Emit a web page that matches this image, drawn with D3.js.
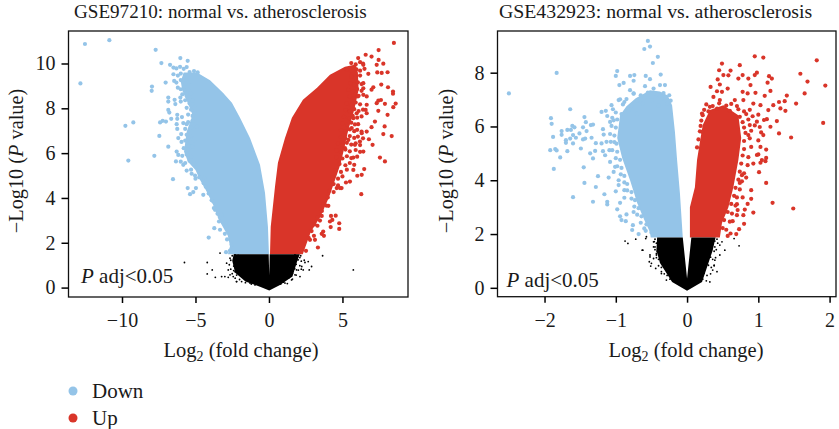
<!DOCTYPE html>
<html>
<head>
<meta charset="utf-8">
<script src="https://d3js.org/d3.v7.min.js"></script>
<style>
  html, body { margin: 0; background: #fff; }
  text { font-family: "Liberation Serif", serif; fill: #1a1a1a; }
</style>
</head>
<body>
<script>
// values: [log2 fold change, -log10 p]

// GSE97210 - solid part of each cloud, outlined
let envelopeDownA = [[-2.79,1.49],[-2.65,1.86],[-2.80,2.31],[-3.40,3.02],[-3.85,3.78],[-4.30,4.36],[-4.70,4.81],[-5.00,5.25],[-5.51,5.61],[-5.78,6.06],[-5.60,6.95],[-5.20,7.70],[-5.50,8.20],[-5.90,8.80],[-6.00,9.20],[-5.80,9.60],[-4.90,9.60],[-4.01,9.25],[-3.13,8.69],[-2.52,8.25],[-1.97,7.58],[-1.29,6.68],[-0.61,5.48],[-0.27,4.23],[-0.07,2.71],[0,1.49]];
let envelopeUpA = [[0.07,1.49],[0.12,2.71],[0.41,4.50],[0.61,5.57],[1.09,6.68],[1.56,7.58],[2.31,8.38],[3.27,8.92],[4.15,9.50],[5.17,9.85],[5.90,9.95],[6.05,9.60],[6.10,8.83],[5.80,7.93],[5.40,7.04],[5.10,6.15],[4.85,5.48],[4.50,4.81],[4.10,4.05],[3.50,3.16],[2.85,2.49],[2.30,1.49]];
let envelopeNsA = [[-2.40,1.49],[-2.50,1.20],[-2.30,0.66],[-1.60,0.27],[-0.61,0.04],[0.02,-0.13],[0.75,0.12],[1.60,0.49],[1.95,1.24],[2.10,1.49],[0.05,1.49],[0.02,0.55],[-0.02,1.49]];

// GSE97210 - separate points
let pointsDownA = [[-12.52,10.87],[-10.86,11.04],[-12.83,9.11],[-7.71,10.61],[-7.32,10.02],[-6.03,10.24],[-5.53,10.12],[-6.73,9.94],[-7.96,8.97],[-7.98,8.78],[-7.03,9.15],[-9.77,7.22],[-9.23,7.37],[-9.57,5.67],[-7.80,5.88],[-7.46,6.77],[-6.85,6.29],[-7.41,7.37],[-7.23,7.44],[-7.01,7.41],[-6.65,7.53],[-6.85,8.48],[-6.85,8.30],[-6.42,8.38],[-6.37,8.19],[-6.03,8.48],[-6.85,7.93],[-6.78,7.81],[-6.24,7.71],[-6.24,7.53],[-6.28,7.29],[-6.24,7.08],[-5.92,7.61],[-5.83,7.34],[-5.60,7.29],[-5.97,6.85],[-6.17,6.67],[-6.28,6.07],[-6.17,5.92],[-6.33,5.63],[-6.53,4.84],[-5.53,4.44],[-5.37,4.17],[-5.15,4.26],[-4.97,4.44],[-4.47,4.14],[-5.26,5.08],[-5.03,5.00],[-3.72,2.65],[-3.33,2.58],[-4.10,2.23],[-2.88,2.75],[-2.92,1.58],[-2.54,1.91],[-3.22,3.25],[-3.33,3.14],[-3.67,3.47],[-3.79,3.84],[-4.44,4.66],[-5.83,5.48]];
let rimDownA = [[-6.5,9.82],[-6.3,9.78],[-6.05,9.85],[-5.8,9.76],[-5.6,9.84],[-6.5,9.52],[-6.2,9.46],[-6.0,9.55],[-5.7,9.48],[-5.4,9.62],[-5.1,9.66],[-4.85,9.6],[-6.45,9.22],[-6.3,9.15],[-6.0,9.26],[-5.7,9.12],[-5.4,9.18],[-6.2,8.92],[-6.0,8.85],[-5.75,8.95],[-5.5,8.82],[-5.9,8.62],[-5.6,8.55],[-5.3,8.66],[-6.0,8.3],[-5.7,8.36],[-5.4,8.22],[-5.2,8.34],[-5.6,8.02],[-5.3,7.94],[-5.1,8.06],[-5.5,7.72],[-5.2,7.66],[-5.05,7.78],[-5.5,7.38],[-5.2,7.44],[-5.7,7.08],[-5.3,7.14],[-5.1,7.04],[-4.9,7.18],[-5.6,6.82],[-5.3,6.76],[-5.95,6.5],[-5.7,6.56],[-5.4,6.46],[-5.1,6.58],[-5.8,6.22],[-5.5,6.16],[-5.2,6.28],[-5.9,5.88],[-5.6,5.94],[-5.3,5.84],[-6.0,5.62],[-5.7,5.56],[-5.4,5.66],[-5.1,5.54],[-5.6,5.22],[-5.3,5.26],[-4.75,4.92],[-5.0,4.86],[-4.4,4.9],[-4.3,4.5],[-4.1,4.2],[-3.9,3.9],[-3.75,3.55],[-3.5,3.3],[-3.4,2.95],[-3.1,2.9],[-3.0,2.4],[-2.85,2.15],[-2.65,1.65]];
let pointsUpA = [[8.50,10.92],[7.46,10.60],[6.58,10.39],[6.98,10.31],[6.07,10.24],[7.46,10.16],[7.78,9.99],[7.33,9.94],[6.42,9.94],[7.37,9.60],[7.67,9.58],[8.07,9.61],[6.76,9.54],[7.64,9.06],[8.10,8.94],[8.44,8.75],[8.44,8.65],[7.10,8.94],[6.98,8.83],[6.42,9.12],[6.42,8.89],[6.42,8.60],[6.65,8.53],[7.44,8.34],[7.62,8.37],[7.33,8.23],[7.89,8.20],[8.62,8.21],[8.46,8.05],[6.65,8.16],[6.58,7.93],[7.44,7.89],[8.07,7.71],[6.65,7.78],[7.21,7.41],[6.07,7.29],[6.98,7.16],[7.87,7.19],[7.78,6.85],[8.35,6.76],[6.65,6.96],[6.31,6.89],[6.80,6.62],[7.05,6.37],[6.42,6.07],[5.85,6.37],[5.40,6.59],[7.55,5.80],[7.89,5.63],[5.51,7.89],[5.97,7.78],[5.74,7.56],[5.63,7.12],[5.05,6.82],[6.19,6.52],[5.17,6.22],[5.74,5.80],[6.05,8.53],[6.48,5.29],[6.31,5.03],[6.01,4.99],[5.74,5.25],[5.51,4.73],[5.24,4.69],[4.94,4.44],[4.61,4.44],[6.28,4.17],[4.04,3.65],[4.54,3.21],[4.22,3.20],[4.31,3.02],[4.15,2.95],[3.59,3.20],[3.47,2.99],[4.78,2.87],[4.78,2.62],[4.20,2.70],[3.69,2.50],[3.59,2.40],[3.74,2.31],[3.06,2.31],[3.13,2.13],[2.79,2.13],[3.33,1.79],[2.52,1.64],[4.83,4.44]];
let rimUpA = [[5.6,10.02],[5.9,9.96],[6.2,10.06],[6.4,10.0],[5.3,9.72],[5.6,9.66],[5.95,9.74],[6.2,9.68],[6.5,9.76],[5.6,9.42],[5.9,9.36],[6.2,9.46],[5.55,9.12],[5.8,9.06],[6.05,9.16],[6.3,9.08],[5.4,8.82],[5.7,8.76],[6.0,8.86],[6.3,8.78],[5.5,8.52],[5.8,8.46],[6.1,8.56],[5.3,8.22],[5.6,8.16],[5.9,8.26],[6.2,8.18],[5.2,7.92],[5.5,7.86],[5.8,7.96],[6.1,7.88],[6.4,7.94],[5.1,7.62],[5.45,7.56],[5.7,7.66],[6.0,7.58],[6.3,7.64],[5.0,7.32],[5.3,7.26],[5.6,7.36],[5.85,7.28],[4.9,7.02],[5.2,6.96],[5.5,7.06],[5.8,6.98],[6.0,7.04],[6.3,6.96],[4.9,6.72],[5.2,6.66],[5.5,6.76],[5.8,6.68],[6.05,6.74],[6.4,6.66],[4.7,6.42],[5.0,6.36],[5.3,6.46],[5.6,6.38],[5.9,6.44],[6.2,6.36],[4.6,6.12],[4.9,6.06],[5.2,6.16],[5.5,6.08],[5.9,6.14],[6.2,6.06],[4.6,5.82],[5.0,5.76],[5.3,5.86],[5.6,5.78],[6.0,5.84],[4.8,5.52],[5.2,5.46],[5.5,5.56],[5.8,5.48],[4.5,5.22],[4.9,5.16],[5.3,5.26],[4.3,4.92],[4.7,4.86],[5.0,4.96],[4.4,4.62],[4.7,4.56],[4.1,4.32],[4.4,4.26],[4.0,4.02],[3.7,3.72],[3.9,3.66],[3.6,3.42],[3.3,3.12],[3.1,2.82],[3.3,2.76],[2.9,2.52],[2.7,2.22]];
let pointsNsA = [[3.65,1.42],[5.74,0.79],[2.90,0.94],[-3.33,1.54],[-5.75,1.12],[-4.20,1.12],[-3.86,0.79],[-4.20,0.61],[-3.65,0.46],[-3.22,0.49],[-2.77,0.46],[-2.21,0.27],[-2.65,1.31],[-2.88,1.09],[-2.31,1.46],[-1.97,1.38],[-2.77,0.79],[-3.00,0.49],[-2.20,0.27],[-1.86,0.27],[-2.43,0.49],[-2.31,0.71],[-2.65,0.57],[-1.29,0.20],[-0.95,0.12],[1.09,0.20],[1.54,0.34],[2.11,0.49],[1.77,0.57],[2.33,0.79],[2.23,0.94],[2.67,1.16],[2.45,1.12],[1.99,1.24],[2.16,1.42],[2.74,0.79],[1.77,1.46],[1.65,1.01],[1.88,0.79],[1.09,0.64]];
let rimNsA = [[-2.5,1.42],[-2.3,1.36],[-2.1,1.44],[-1.9,1.34],[1.7,1.38],[1.9,1.42],[2.1,1.34],[-2.6,1.22],[-2.35,1.16],[-2.1,1.24],[1.7,1.16],[1.9,1.24],[2.2,1.18],[2.4,1.22],[-2.7,1.02],[-2.4,0.96],[-2.2,1.04],[1.6,0.96],[1.85,1.04],[2.1,0.98],[-2.6,0.82],[-2.4,0.76],[-2.1,0.84],[1.5,0.76],[1.75,0.84],[2.0,0.78],[2.2,0.82],[-2.5,0.62],[-2.2,0.56],[-1.9,0.64],[1.4,0.58],[1.6,0.64],[1.85,0.56],[-2.3,0.42],[-2.0,0.36],[-1.7,0.44],[-1.4,0.38],[1.1,0.36],[1.35,0.44],[1.6,0.38],[-1.6,0.22],[-1.2,0.16],[-0.9,0.24],[0.8,0.16],[1.0,0.24],[1.25,0.18]];

// GSE432923 - solid part of each cloud, outlined
let envelopeDownB = [[-0.06,1.87],[-0.10,3.52],[-0.14,4.75],[-0.17,5.79],[-0.21,6.79],[-0.27,7.15],[-0.38,7.3],[-0.52,7.35],[-0.72,7.05],[-0.85,6.75],[-0.94,6.42],[-0.98,5.57],[-0.91,4.82],[-0.80,4.00],[-0.70,3.15],[-0.60,2.52],[-0.52,2.07],[-0.51,1.87]];
let envelopeUpB = [[0.04,1.87],[0.04,3.00],[0.11,3.74],[0.14,4.75],[0.18,5.42],[0.22,6.05],[0.32,6.61],[0.51,6.79],[0.72,6.42],[0.76,5.57],[0.72,4.75],[0.65,3.74],[0.58,3.00],[0.49,2.41],[0.46,1.87]];
let envelopeNsB = [[-0.42,1.87],[-0.43,1.40],[-0.38,0.92],[-0.21,0.22],[0,-0.11],[0.21,0.22],[0.30,0.92],[0.36,1.40],[0.40,1.87],[0.06,1.87],[0,0.35],[-0.06,1.87]];

// GSE432923 - separate points
let pointsDownB = [[-2.50,7.23],[-1.83,7.99],[-0.55,9.18],[-0.60,8.88],[-0.52,8.97],[-0.41,8.59],[-0.48,8.36],[-0.98,8.06],[-1.00,7.88],[-0.80,7.88],[-0.74,7.91],[-0.75,7.70],[-0.58,7.88],[-0.52,7.76],[-0.37,7.93],[-0.89,7.62],[-0.95,7.54],[-1.64,6.64],[-1.91,6.31],[-1.90,6.10],[-1.44,6.35],[-1.42,6.16],[-1.88,5.61],[-1.76,5.83],[-1.76,5.69],[-1.68,5.87],[-1.63,5.87],[-1.61,6.02],[-1.58,5.97],[-1.60,5.68],[-1.46,5.97],[-1.51,5.74],[-1.41,5.83],[-1.35,6.05],[-1.32,6.07],[-1.64,5.55],[-1.70,5.49],[-1.70,5.39],[-1.56,5.58],[-1.60,5.37],[-1.46,5.52],[-1.43,5.55],[-1.34,5.58],[-1.28,5.38],[-1.92,5.12],[-1.85,5.16],[-1.83,5.11],[-1.68,5.08],[-1.78,4.85],[-1.49,5.18],[-1.36,5.00],[-1.29,5.09],[-1.32,4.81],[-1.18,5.90],[-1.17,5.70],[-1.20,6.54],[-1.14,6.58],[-1.12,6.39],[-1.06,6.79],[-1.04,6.64],[-1.08,6.17],[-1.03,6.23],[-1.20,5.37],[-1.13,5.43],[-1.07,5.43],[-1.18,5.08],[-1.15,4.93],[-1.09,5.12],[-1.08,4.68],[-0.96,6.98],[-0.94,7.01],[-0.80,7.35],[-0.75,7.23],[-0.59,7.50],[-0.47,7.41],[-0.38,7.54],[-0.31,7.54],[-0.43,7.16],[-0.88,6.91],[-1.87,4.42],[-1.45,4.48],[-1.25,4.15],[-1.10,4.10],[-1.44,3.90],[-1.28,3.75],[-1.60,3.37],[-1.32,3.20],[-1.16,3.48],[-1.12,3.20],[-1.12,3.10],[-1.00,3.59],[-0.94,3.16],[-0.98,2.92],[-0.88,3.35],[-0.85,2.73],[-0.94,2.66],[-0.92,2.52],[-0.86,2.48],[-0.76,2.33],[-0.77,2.15],[-0.68,2.00],[-0.60,2.21],[-1.03,4.31],[-0.96,4.00],[-0.96,3.82],[-0.88,3.63],[-0.75,2.82],[-1.01,4.50]];
let rimDownB = [[-0.75,7.22],[-0.65,7.16],[-0.55,7.26],[-0.42,7.18],[-0.33,7.24],[-0.25,7.16],[-0.85,7.02],[-0.7,6.96],[-0.6,7.06],[-0.5,6.98],[-0.36,7.04],[-0.23,6.96],[-0.9,6.82],[-0.78,6.76],[-0.62,6.86],[-0.4,6.78],[-0.28,6.84],[-1.0,6.52],[-0.92,6.46],[-0.82,6.56],[-0.7,6.48],[-1.05,6.32],[-0.98,6.26],[-1.06,6.02],[-1.0,5.96],[-1.08,5.72],[-1.02,5.66],[-1.02,5.42],[-0.99,5.36],[-1.05,5.12],[-0.98,5.06],[-1.0,4.82],[-0.94,4.76],[-0.98,4.52],[-0.92,4.46],[-0.93,4.22],[-0.88,4.16],[-0.88,3.92],[-0.84,3.86],[-0.84,3.62],[-0.78,3.56],[-0.78,3.32],[-0.73,3.26],[-0.74,3.02],[-0.68,2.96],[-0.7,2.72],[-0.64,2.66],[-0.65,2.42],[-0.57,2.36],[-0.58,2.12],[-0.5,2.06]];
let pointsUpB = [[0.95,8.61],[1.07,8.56],[0.49,8.34],[0.74,8.28],[1.82,8.46],[0.45,8.09],[0.61,8.08],[0.51,7.91],[0.58,7.90],[0.43,7.75],[0.46,7.56],[0.33,7.47],[0.72,7.78],[0.78,7.91],[0.86,7.78],[0.95,7.91],[0.98,8.00],[1.15,7.87],[1.19,7.78],[1.13,7.63],[0.89,7.54],[1.59,7.96],[1.69,7.67],[1.94,7.52],[1.65,7.23],[1.40,7.15],[1.53,6.85],[1.38,6.58],[1.37,6.94],[1.29,6.91],[1.31,6.67],[1.21,6.79],[1.17,7.32],[1.09,7.14],[0.96,7.25],[0.57,7.41],[0.42,7.31],[0.49,7.29],[0.37,7.10],[0.21,6.48],[0.32,6.73],[0.78,7.29],[0.85,7.23],[1.91,6.13],[1.29,5.74],[1.46,5.59],[1.26,6.20],[1.17,5.99],[1.12,6.27],[1.07,5.68],[1.03,5.24],[1.11,5.14],[1.00,4.96],[1.11,4.83],[1.05,4.75],[0.88,6.05],[0.86,5.68],[1.03,6.79],[0.93,6.85],[0.79,6.98],[0.67,6.98],[0.46,6.98],[1.14,6.61],[0.21,5.80],[1.49,2.95],[1.20,3.16],[1.11,3.90],[1.01,4.30],[0.93,4.62],[0.90,3.63],[0.90,3.31],[0.93,2.80],[0.85,3.12],[0.83,4.10],[0.74,3.90],[0.78,3.36],[0.70,3.11],[0.81,2.91],[0.71,2.89],[0.79,2.70],[0.70,2.70],[0.64,2.48],[0.80,2.38],[0.73,2.18],[0.69,2.00],[0.61,2.02],[0.57,1.93],[1.03,4.65],[1.10,4.71],[0.77,4.19]];
let rimUpB = [[0.27,6.82],[0.36,6.76],[0.45,6.86],[0.55,6.78],[0.62,6.84],[0.7,6.76],[0.24,6.62],[0.3,6.56],[0.42,6.66],[0.6,6.58],[0.72,6.64],[0.8,6.56],[0.88,6.62],[0.22,6.42],[0.74,6.36],[0.83,6.46],[0.92,6.38],[1.0,6.44],[0.2,6.22],[0.78,6.16],[0.86,6.26],[0.98,6.18],[1.08,6.24],[0.19,6.02],[0.8,5.96],[0.95,6.04],[1.02,5.98],[0.18,5.82],[0.82,5.76],[0.9,5.84],[1.04,5.78],[0.16,5.52],[0.8,5.46],[0.88,5.56],[1.0,5.48],[0.14,5.22],[0.8,5.16],[0.9,5.24],[0.78,4.92],[0.86,4.86],[0.98,4.94],[0.76,4.62],[0.85,4.56],[0.74,4.32],[0.8,4.26],[0.72,4.02],[0.77,3.96],[0.68,3.72],[0.74,3.66],[0.66,3.42],[0.7,3.36],[0.62,3.12],[0.68,3.06],[0.57,2.82],[0.63,2.76],[0.52,2.52],[0.6,2.46],[0.5,2.22],[0.55,2.16]];
let pointsNsB = [[-0.87,1.74],[-0.83,1.65],[-0.63,1.40],[-0.57,1.90],[-0.52,1.22],[-0.47,1.09],[-0.53,0.97],[-0.51,0.81],[-0.44,0.72],[-0.36,0.60],[-0.29,0.29],[-0.45,1.52],[-0.47,1.71],[-0.43,1.28],[-0.72,1.81],[0.73,1.56],[0.66,1.83],[0.53,1.40],[0.46,1.22],[0.39,1.03],[0.42,0.60],[0.32,0.22],[0.46,1.59],[0.39,1.52],[0.49,1.71],[0.42,1.81],[0.36,0.66],[0.38,0.84],[-0.62,1.40],[-0.58,1.83],[-0.52,1.15],[-0.50,0.91],[-0.36,0.53],[-0.47,1.52],[-0.45,1.81],[-0.43,1.22]];
let rimNsB = [[-0.46,1.72],[-0.43,1.66],[-0.41,1.74],[0.36,1.68],[0.39,1.74],[0.43,1.66],[-0.45,1.42],[-0.42,1.36],[0.34,1.44],[0.38,1.36],[0.41,1.42],[-0.43,1.12],[-0.40,1.06],[0.33,1.14],[0.36,1.06],[0.4,1.12],[-0.4,0.82],[-0.36,0.76],[0.3,0.84],[0.34,0.76],[0.38,0.82],[-0.32,0.52],[-0.28,0.46],[0.24,0.54],[0.28,0.46],[0.33,0.52],[-0.24,0.32],[-0.2,0.26],[0.22,0.32],[0.27,0.26]];

let ticksXA = [-10,-5,0,5];
let ticksXB = [-2,-1,0,1,2];
let ticksYA = [0,2,4,6,8,10];
let ticksYB = [0,2,4,6,8];

let legendLabels = ["Down","Up"];
let colors = {down:"#94c4e8", up:"#d93529", ns:"#000000"};

let svg = d3.select("body").append("svg")
    .attr("width",839)
    .attr("height",429)
    .style("display","block");

let minus = d => d3.format("d")(d).replace("-","\u2212");

function drawPanel(p){
    let x = d3.scaleLinear().domain(p.xDomain).range([p.left,p.right]);
    let y = d3.scaleLinear().domain(p.yDomain).range([p.bottom,p.top]);
    let g = svg.append("g");
    let line = d3.line().x(d=>x(d[0])).y(d=>y(d[1])).curve(d3.curveLinearClosed);

    //clouds
    [[p.envDown,colors.down],[p.envUp,colors.up],[p.envNs,colors.ns]].forEach(e=>{
        g.append("path").attr("d",line(e[0])).attr("fill",e[1]);
    });
    [[p.down,colors.down,2.1],[p.up,colors.up,2.1],[p.ns,colors.ns,0.9]].forEach(s=>{
        g.append("g").selectAll("circle").data(s[0]).join("circle")
            .attr("cx",d=>x(d[0]))
            .attr("cy",d=>y(d[1]))
            .attr("r",s[2])
            .attr("fill",s[1]);
    });

    //frame
    g.append("rect")
        .attr("x",p.left).attr("y",p.top)
        .attr("width",p.right-p.left).attr("height",p.bottom-p.top)
        .attr("fill","none").attr("stroke","#111").attr("stroke-width",1.3);

    //axes
    let xAxis = g.append("g").attr("transform",`translate(0,${p.bottom})`)
        .call(d3.axisBottom(x).tickValues(p.ticksX).tickFormat(minus).tickSizeOuter(0).tickSize(6).tickPadding(10));
    let yAxis = g.append("g").attr("transform",`translate(${p.left},0)`)
        .call(d3.axisLeft(y).tickValues(p.ticksY).tickFormat(minus).tickSizeOuter(0).tickSize(7).tickPadding(6));
    [xAxis,yAxis].forEach(a=>{
        a.select(".domain").remove();
        a.selectAll("line").attr("stroke","#000").attr("stroke-width",1.5);
        a.selectAll("text").attr("font-size",20).attr("font-family","Liberation Serif").attr("fill","#1a1a1a");
    });

    //titles
    g.append("text").attr("x",p.titleX).attr("y",18).attr("font-size",p.titleSize).text(p.title);

    let xt = g.append("text").attr("x",p.xLabelX).attr("y",356.5).attr("text-anchor","middle").attr("font-size",20.5);
    xt.append("tspan").text("Log");
    xt.append("tspan").attr("dy",4).attr("font-size",14).text("2");
    xt.append("tspan").attr("dy",-4).text(" (fold change)");

    let yt = g.append("text").attr("transform",`translate(${p.yLabelX},${p.yLabelY}) rotate(-90)`)
        .attr("text-anchor","middle").attr("font-size",20.3);
    yt.append("tspan").text("\u2212Log10 (");
    yt.append("tspan").attr("font-style","italic").text("P");
    yt.append("tspan").text(" value)");

    let note = g.append("text").attr("x",p.noteX).attr("y",p.noteY).attr("font-size",21);
    note.append("tspan").attr("font-style","italic").text("P");
    note.append("tspan").text(" adj<0.05");
}

drawPanel({
    left:68.5,right:408,top:31,bottom:297,
    xDomain:[-13.64,9.46],yDomain:[-0.42,11.45],
    envDown:envelopeDownA,envUp:envelopeUpA,envNs:envelopeNsA,
    down:pointsDownA.concat(rimDownA),up:pointsUpA.concat(rimUpA),ns:pointsNsA.concat(rimNsA),
    ticksX:ticksXA,ticksY:ticksYA,
    title:"GSE97210: normal vs. atherosclerosis",titleX:74,titleSize:19.1,
    xLabelX:241,yLabelX:23,yLabelY:161,noteX:81,noteY:283
});
drawPanel({
    left:497.5,right:836,top:31,bottom:296.7,
    xDomain:[-2.66,2.09],yDomain:[-0.33,9.55],
    envDown:envelopeDownB,envUp:envelopeUpB,envNs:envelopeNsB,
    down:pointsDownB.concat(rimDownB),up:pointsUpB.concat(rimUpB),ns:pointsNsB.concat(rimNsB),
    ticksX:ticksXB,ticksY:ticksYB,
    title:"GSE432923: normal vs. atherosclerosis",titleX:499,titleSize:19.8,
    xLabelX:686,yLabelX:453,yLabelY:161,noteX:506.5,noteY:286.5
});

//legend
let legendY = d3.scalePoint().domain(legendLabels).range([391,418]);
legendLabels.forEach((l,i)=>{
    svg.append("circle").attr("cx",73).attr("cy",legendY(l)).attr("r",4.5).attr("fill",i==0?colors.down:colors.up);
    svg.append("text").attr("x",92).attr("y",legendY(l)+6.7).attr("font-size",21).text(l);
});
</script>
</body>
</html>
